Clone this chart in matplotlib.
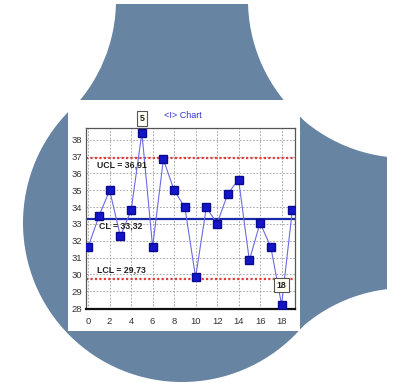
import matplotlib
matplotlib.use('Agg')
import matplotlib.pyplot as plt
from matplotlib.patches import Rectangle, Circle

# data
obs = list(range(20))
values = [31.63, 33.46, 35.00, 32.27, 33.81, 38.42, 31.63, 36.83, 35.00, 33.99,
          29.83, 33.99, 33.02, 34.80, 35.64, 30.84, 33.06, 31.63, 28.20, 33.81]
ucl = 36.91
cl = 33.32
lcl = 29.73
flagged = [5, 18]
xticks = list(range(0, 19, 2))
yticks = list(range(28, 39))

plt.rcParams['font.family'] = ['Liberation Sans', 'DejaVu Sans']

fig = plt.figure(figsize=(3.95, 3.83), dpi=100)
fig.patch.set_facecolor('white')

# decorative background in pixel coords
bg = fig.add_axes([0, 0, 1, 1])
bg.set_xlim(0, 395)
bg.set_ylim(383, 0)
bg.axis('off')
shape = '#6784a3'
bg.add_patch(Rectangle((80, 4), 307, 335, color=shape, lw=0))
bg.add_patch(Circle((-41.5, 0), 157.5, color='white', lw=0))
bg.add_patch(Circle((406, 0), 158, color='white', lw=0))
bg.add_patch(Circle((406, 446), 158, color='white', lw=0))
bg.add_patch(Circle((182, 223), 159, color=shape, lw=0))
bg.add_patch(Rectangle((68, 100), 232, 231, color='white', lw=0))
bg.text(183, 116, '<I> Chart', color='#3333cc', fontsize=6.5, ha='center', va='center')

# the control chart
ax = fig.add_axes([86 / 395, 1 - 309 / 383, 209 / 395, 181 / 383])
ax.set_facecolor('white')
ax.plot(obs, values, color='#6a6ae8', lw=0.8, zorder=3)
ax.plot(obs, values, ls='', marker='s', ms=5.3, color='#1414c8', mec='#0a0a90', zorder=4)
ax.axhline(cl, color='#1c2aa8', lw=1.6, zorder=2)
ax.axhline(ucl, color='#e03c3c', lw=1.6, ls=(0, (1, 1)), zorder=2)
ax.axhline(lcl, color='#e03c3c', lw=1.6, ls=(0, (1, 1)), zorder=2)

lab = dict(fontsize=6.3, color='#222222', va='center', ha='left', fontweight='bold')
ax.text(0.8, 36.5, 'UCL = 36,91', **lab)
ax.text(1.0, 32.88, 'CL = 33,32', **lab)
ax.text(0.8, 30.26, 'LCL = 29,73', **lab)

for i in flagged:
    off = (0, 7) if i == 5 else (0, 11)
    ax.annotate(str(i), (obs[i], values[i]), xytext=off, textcoords='offset points',
                ha='center', va='bottom', fontsize=6.3, fontweight='bold', color='#222222',
                annotation_clip=False,
                bbox=dict(boxstyle='square,pad=0.3', fc='#fffff4', ec='#555555', lw=0.8), zorder=6)

ax.set_xlim(-0.2, 19.25)
ax.set_ylim(27.95, 38.7)
ax.set_xticks(xticks)
ax.set_yticks(yticks)
ax.grid(True, color='#999999', ls=(0, (2, 2)), lw=0.6)
ax.tick_params(length=0, labelsize=6.8, colors='#333333')
ax.tick_params(axis='x', pad=6)
ax.tick_params(axis='y', pad=3)
for s in ['top', 'right', 'left']:
    ax.spines[s].set_color('#555555')
    ax.spines[s].set_linewidth(0.9)
ax.spines['bottom'].set_color('#111111')
ax.spines['bottom'].set_linewidth(1.6)

fig.savefig('out.png', dpi=100)
